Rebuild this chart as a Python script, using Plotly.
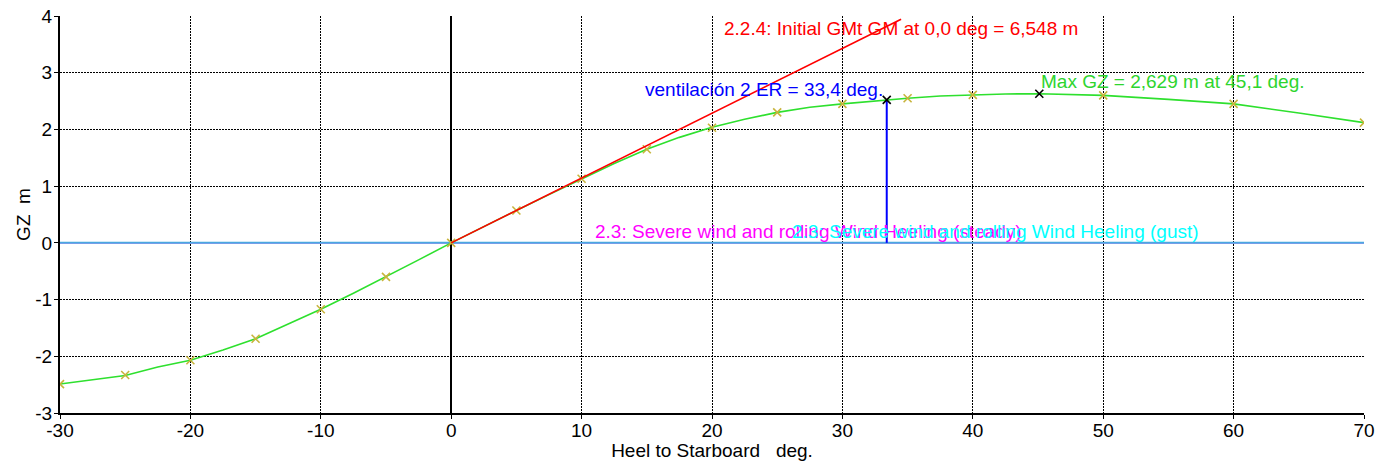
import plotly.graph_objects as go

# ---- data ----
gz_curve_heel = [-30, -27.5, -25, -22.5, -20, -17.5, -15, -12.5, -10, -7.5, -5, -2.5, 0,
                 2.5, 5, 7.5, 10, 12.5, 15, 17.5, 20, 22.5, 25, 27.5, 30, 33.4, 35,
                 37.5, 40, 42.5, 45.1, 47.5, 50, 55, 60, 65, 70]
gz_curve_val = [-2.49, -2.41, -2.34, -2.19, -2.07, -1.89, -1.69, -1.43, -1.17, -0.89, -0.60, -0.30, 0.0,
                0.29, 0.57, 0.85, 1.13, 1.40, 1.65, 1.86, 2.04, 2.18, 2.30, 2.39, 2.45, 2.52, 2.55,
                2.59, 2.61, 2.625, 2.629, 2.62, 2.60, 2.53, 2.45, 2.29, 2.12]

gz_pts_heel = [-30, -25, -20, -15, -10, -5, 0, 5, 10, 15, 20, 25, 30, 35, 40, 50, 60, 70]
gz_pts_val = [-2.49, -2.33, -2.07, -1.69, -1.17, -0.60, 0.0, 0.57, 1.13, 1.65, 2.03, 2.30,
              2.45, 2.55, 2.61, 2.60, 2.45, 2.12]

gm_heel = [0, 34.5]
gm_val = [0, 6.548 * 34.5 * 3.141592653589793 / 180]

vent_heel = [33.4, 33.4]
vent_val = [0, 2.52]

max_gz_heel = [45.1]
max_gz_val = [2.629]

heel_arm_x = [-30, 70]
heel_arm_steady = [0.0, 0.0]
heel_arm_gust = [0.0, 0.0]

x_ticks = [-30, -20, -10, 0, 10, 20, 30, 40, 50, 60, 70]
y_ticks = [-3, -2, -1, 0, 1, 2, 3, 4]

FONT = "Arial, Liberation Sans, sans-serif"
FS = 19

fig = go.Figure()

fig.add_trace(go.Scatter(x=heel_arm_x, y=heel_arm_steady, mode="lines",
                         line=dict(color="#ff00ff", width=1.5), hoverinfo="skip"))
fig.add_trace(go.Scatter(x=heel_arm_x, y=heel_arm_gust, mode="lines",
                         line=dict(color="#4aa8e0", width=2), hoverinfo="skip"))
fig.add_trace(go.Scatter(x=gz_curve_heel, y=gz_curve_val, mode="lines",
                         line=dict(color="#2ee02e", width=1.6)))
fig.add_trace(go.Scatter(x=gz_pts_heel, y=gz_pts_val, mode="markers",
                         marker=dict(symbol="x-thin", size=8, color="#c8b43c",
                                     line=dict(color="#c8b43c", width=1.6))))
fig.add_trace(go.Scatter(x=gm_heel, y=gm_val, mode="lines",
                         line=dict(color="#ff0000", width=1.6)))
fig.add_trace(go.Scatter(x=vent_heel, y=vent_val, mode="lines",
                         line=dict(color="#0000ff", width=2)))
fig.add_trace(go.Scatter(x=[vent_heel[1]] + max_gz_heel, y=[vent_val[1]] + max_gz_val,
                         mode="markers",
                         marker=dict(symbol="x-thin", size=8, color="#000000",
                                     line=dict(color="#000000", width=1.6))))

annotations = [
    dict(x=20.8, y=3.78, text="2.2.4: Initial GMt GM at 0,0 deg = 6,548 m",
         xanchor="left", yanchor="middle", font=dict(color="#ff0000")),
    dict(x=33.3, y=2.71, text="ventilación 2 ER = 33,4 deg.",
         xanchor="right", yanchor="middle", font=dict(color="#0000ff")),
    dict(x=45.1, y=2.84, text="Max GZ = 2,629 m at 45,1 deg.",
         xanchor="left", yanchor="middle", font=dict(color="#2ed52e")),
    dict(x=10.9, y=0.20, text="2.3: Severe wind and rolling Wind Heeling (steady)",
         xanchor="left", yanchor="middle", font=dict(color="#ff00ff")),
    dict(x=26.0, y=0.20, text="2.3: Severe wind and rolling Wind Heeling (gust)",
         xanchor="left", yanchor="middle", font=dict(color="#00ffff")),
]
for a in annotations:
    a.update(xref="x", yref="y", showarrow=False)
    a["font"].update(family=FONT, size=FS)

fig.update_layout(
    width=1380, height=461,
    margin=dict(l=60, r=16, t=16, b=48),
    paper_bgcolor="white", plot_bgcolor="white",
    showlegend=False,
    font=dict(family=FONT, size=FS, color="#000000"),
    annotations=annotations,
    xaxis=dict(range=[-30, 70], tickvals=x_ticks, ticktext=[str(v) for v in x_ticks],
               automargin=False,
               showgrid=True, gridcolor="#000000", griddash="2px,1px", gridwidth=1,
               zeroline=True, zerolinecolor="#000000", zerolinewidth=2,
               showline=True, linecolor="#000000", linewidth=2,
               ticks="outside", ticklen=4, tickcolor="#000000",
               tickfont=dict(size=FS), ticklabelstandoff=-5,
               title=dict(text="Heel to Starboard   deg.", font=dict(size=FS), standoff=0)),
    yaxis=dict(range=[-3, 4], tickvals=y_ticks, ticktext=[str(v) for v in y_ticks],
               automargin=False,
               showgrid=True, gridcolor="#000000", griddash="2px,1px", gridwidth=1,
               zeroline=False,
               showline=True, linecolor="#000000", linewidth=2,
               ticks="outside", ticklen=4, tickcolor="#000000",
               tickfont=dict(size=FS), ticklabelstandoff=-2,
               title=dict(text="GZ  m", font=dict(size=FS), standoff=0)),
)

fig.write_html("out.html", config={"displayModeBar": False},
               post_script="document.body.style.margin='0';")
